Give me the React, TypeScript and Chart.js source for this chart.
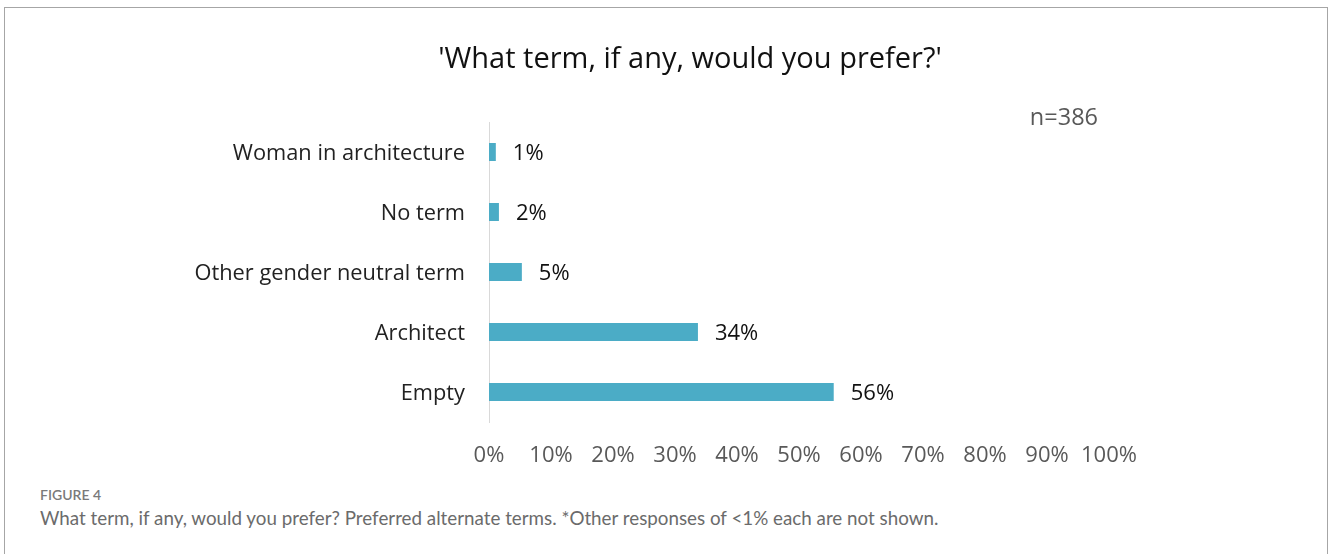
import React, { useEffect, useRef } from "react";
import { Chart, registerables } from "chart.js";

Chart.register(...registerables);

const categories = ["Woman in architecture", "No term", "Other gender neutral term", "Architect", "Empty"];
const values = [1.1, 1.6, 5.3, 33.7, 55.6];
const xTicks = [0, 10, 20, 30, 40, 50, 60, 70, 80, 90, 100];
const titleText = "'What term, if any, would you prefer?'";
const sampleText = "n=386";
const figureLabel = "FIGURE 4";
const captionText = "What term, if any, would you prefer? Preferred alternate terms. *Other responses of <1% each are not shown.";

const FONT = "'Open Sans', 'Noto Sans', sans-serif";

const valueLabelPlugin = {
  id: "valueLabels",
  afterDatasetsDraw(chart: any) {
    const ctx = chart.ctx;
    const meta = chart.getDatasetMeta(0);
    ctx.save();
    ctx.font = `22px ${FONT}`;
    ctx.fillStyle = "#111111";
    ctx.textAlign = "left";
    ctx.textBaseline = "middle";
    meta.data.forEach((bar: any, i: number) => {
      ctx.fillText(Math.round(values[i]) + "%", bar.x + 17, bar.y + 2);
    });
    ctx.font = `23.5px ${FONT}`;
    ctx.fillStyle = "#595959";
    ctx.textAlign = "right";
    ctx.fillText(sampleText, chart.chartArea.right - 11, chart.chartArea.top - 4);
    ctx.restore();
  },
};

export default function App() {
  const ref = useRef<HTMLCanvasElement>(null);
  useEffect(() => {
    if (!ref.current) return;
    const chart = new Chart(ref.current, {
      type: "bar",
      data: {
        labels: categories,
        datasets: [
          {
            data: values,
            backgroundColor: "#4BACC6",
            borderWidth: 0,
            barPercentage: 0.3,
            categoryPercentage: 1,
          },
        ],
      },
      options: {
        indexAxis: "y",
        responsive: false,
        animation: false,
        devicePixelRatio: 1,
        layout: { padding: { left: 0, right: 219, top: 122, bottom: 0 } },
        plugins: {
          legend: { display: false },
          tooltip: { enabled: false },
          title: { display: false },
        },
        scales: {
          x: {
            min: 0,
            max: 100,
            afterFit: (s: any) => {
              s.height = 58;
            },
            afterBuildTicks: (s: any) => {
              s.ticks = xTicks.map((v) => ({ value: v }));
            },
            grid: { display: false, drawTicks: false },
            border: { display: false },
            ticks: {
              padding: 21,
              color: "#595959",
              font: { family: FONT, size: 22 },
              callback: (v: any) => v + "%",
              maxRotation: 0,
              autoSkip: false,
            },
          },
          y: {
            afterFit: (s: any) => {
              s.width = 489;
            },
            grid: { display: false, drawTicks: false },
            border: { display: true, color: "#D9D9D9", width: 1 },
            ticks: {
              padding: 24,
              labelOffset: 1.5,
              color: "#222222",
              font: { family: FONT, size: 21.8 },
            },
          },
        },
      },
      plugins: [valueLabelPlugin],
    });
    return () => chart.destroy();
  }, []);

  return (
    <div style={{ position: "fixed", left: 0, top: 0, width: 1328, height: 554, background: "#fff", overflow: "hidden" }}>
      <div
        style={{
          position: "absolute",
          left: 4,
          top: 7,
          width: 1324,
          height: 700,
          boxSizing: "border-box",
          border: "1px solid #A6A6A6",
        }}
      />
      <canvas ref={ref} width={1328} height={480} style={{ position: "absolute", left: 0, top: 0 }} />
      <div
        style={{
          position: "absolute",
          left: 290,
          width: 800,
          top: 37,
          textAlign: "center",
          fontFamily: FONT,
          fontSize: 29,
          lineHeight: "40px",
          color: "#111111",
          whiteSpace: "nowrap",
        }}
      >
        {titleText}
      </div>
      <div
        style={{
          position: "absolute",
          left: 40,
          top: 486,
          fontFamily: "Lato, 'Open Sans', sans-serif",
          fontSize: 14,
          fontWeight: 600,
          color: "#7a7a7a",
          lineHeight: "18px",
        }}
      >
        {figureLabel}
      </div>
      <div
        style={{
          position: "absolute",
          left: 40,
          top: 507,
          fontFamily: "Lato, 'Open Sans', sans-serif",
          fontSize: 18.8,
          color: "#6b6b6b",
          lineHeight: "22px",
          whiteSpace: "nowrap",
        }}
      >
        {captionText}
      </div>
    </div>
  );
}
